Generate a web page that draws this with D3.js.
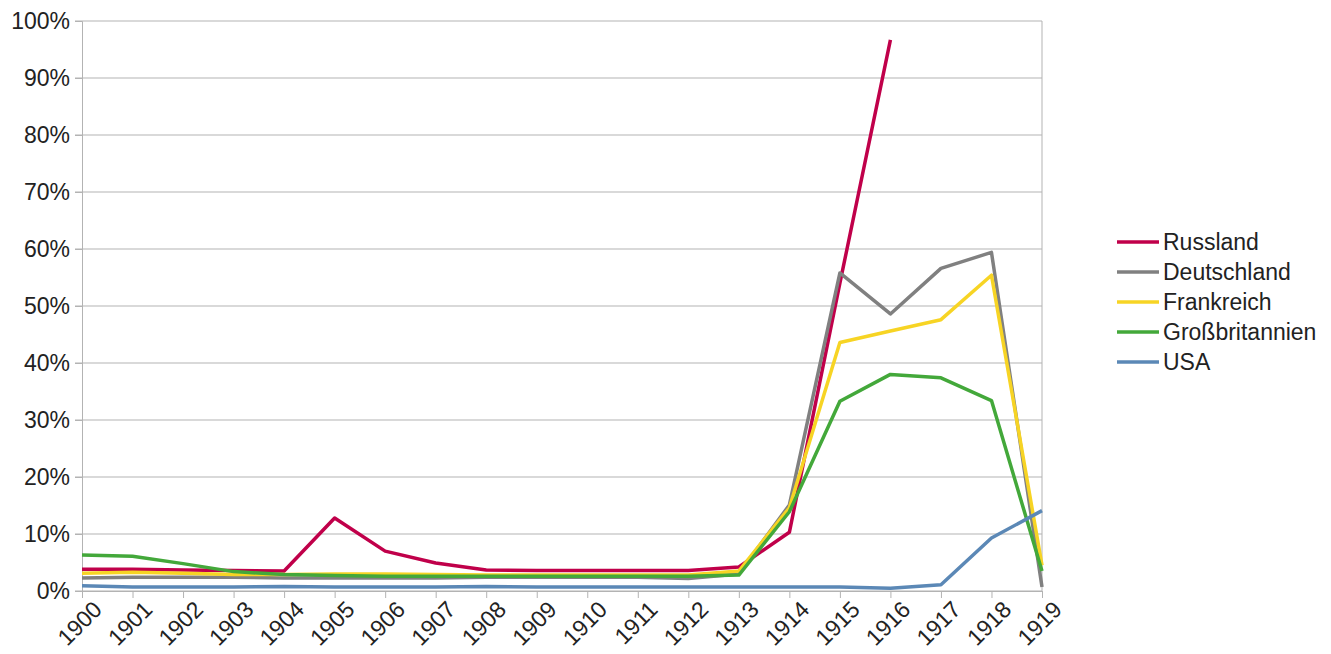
<!DOCTYPE html>
<html><head><meta charset="utf-8">
<script src="https://cdn.jsdelivr.net/npm/d3@7"></script>
<style>body{margin:0;background:#fff;} svg{display:block;font-family:"Liberation Sans",Arial,sans-serif;}</style>
</head><body>
<svg id="c" width="1331" height="654"></svg>
<script>
const years = [1900,1901,1902,1903,1904,1905,1906,1907,1908,1909,1910,1911,1912,1913,1914,1915,1916,1917,1918,1919];
const russland = [3.8,3.8,3.7,3.6,3.5,12.8,7.0,4.9,3.7,3.6,3.6,3.6,3.6,4.2,10.3,54.0,96.7,null,null,null];
const deutschland = [2.3,2.4,2.4,2.4,2.3,2.3,2.3,2.3,2.4,2.4,2.4,2.4,2.2,3.0,15.1,55.8,48.6,56.6,59.4,0.7];
const frankreich = [3.1,3.3,3.1,2.9,2.9,3.0,3.0,2.9,2.8,2.8,2.8,2.8,2.8,3.5,14.6,43.6,45.6,47.6,55.4,4.5];
const grossbritannien = [6.3,6.1,4.8,3.4,2.9,2.7,2.6,2.6,2.6,2.6,2.6,2.6,2.6,2.8,13.9,33.3,38.0,37.4,33.4,3.5];
const usa = [0.9,0.7,0.7,0.7,0.8,0.7,0.7,0.7,0.8,0.7,0.7,0.7,0.7,0.7,0.7,0.7,0.5,1.1,9.3,14.1];
const seriesNames = ["Russland","Deutschland","Frankreich","Großbritannien","USA"];
const seriesColors = ["#c0004a","#808080","#f7d424","#43a83a","#5b88b6"];
const yTicks = [0,10,20,30,40,50,60,70,80,90,100];

const seriesData = [russland,deutschland,frankreich,grossbritannien,usa];
const svg = d3.select("#c");
const L=82, R=1042, T=21, B=591;
const FS = 23;
const x = d3.scaleLinear().domain([years[0], years[years.length-1]]).range([L,R]);
const y = d3.scaleLinear().domain([0,100]).range([B,T]);

// gridlines
svg.append("g").selectAll("line").data(yTicks).join("line")
  .attr("x1",L-7).attr("x2",R).attr("y1",d=>y(d)).attr("y2",d=>y(d))
  .attr("stroke","#b3b3b3").attr("stroke-width",1);
// right frame
svg.append("line").attr("x1",R).attr("x2",R).attr("y1",T).attr("y2",B).attr("stroke","#b3b3b3");
// y axis
const yAxis = d3.axisLeft(y).tickValues(yTicks).tickFormat(d=>d+"%").tickSize(7).tickPadding(5);
const gy = svg.append("g").attr("transform",`translate(${L},0)`).call(yAxis);
gy.select(".domain").attr("stroke","#b3b3b3");
gy.selectAll(".tick line").attr("stroke","#b3b3b3");
gy.selectAll("text").attr("font-size",FS).attr("fill","#222").attr("font-family","Liberation Sans, Arial, sans-serif");
// x axis
const xAxis = d3.axisBottom(x).tickValues(years).tickFormat(d3.format("d")).tickSize(7);
const gx = svg.append("g").attr("transform",`translate(0,${B})`).call(xAxis);
gx.select(".domain").attr("stroke","#b3b3b3");
gx.selectAll(".tick line").attr("stroke","#b3b3b3");
gx.selectAll("text").attr("font-size",FS).attr("fill","#222").attr("font-family","Liberation Sans, Arial, sans-serif")
  .attr("text-anchor","end").attr("dy",null).attr("y",0)
  .attr("transform","translate(9,8) rotate(-45)").attr("dominant-baseline","hanging");

// lines
const line = d3.line().defined(d=>d[1]!=null).x(d=>x(d[0])).y(d=>y(d[1]));
seriesData.forEach((s,i)=>{
  svg.append("path").datum(years.map((yr,j)=>[yr,s[j]]))
    .attr("d",line).attr("fill","none").attr("stroke",seriesColors[i])
    .attr("stroke-width",3.5).attr("stroke-linejoin","round");
});

// legend
const lg = svg.append("g").attr("transform","translate(1117,242)");
seriesNames.forEach((n,i)=>{
  const g = lg.append("g").attr("transform",`translate(0,${i*30})`);
  g.append("line").attr("x1",0).attr("x2",42).attr("y1",0).attr("y2",0).attr("stroke",seriesColors[i]).attr("stroke-width",3.5);
  g.append("text").attr("x",46).attr("y",0).attr("dy","0.35em").attr("font-size",FS).attr("fill","#222").text(n);
});
</script>
</body></html>
